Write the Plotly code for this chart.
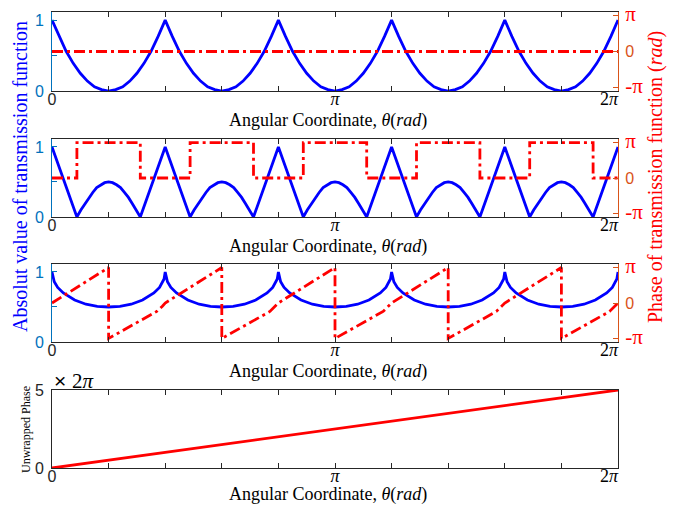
import math
import plotly.graph_objects as go

PI = math.pi

# ---------------- data (theta in units of pi) ----------------
# Panel 1: |t| and phase
theta1 = [round(i * 0.025, 3) for i in range(81)]
amp1 = [1, 0.77, 0.56, 0.39, 0.25, 0.14, 0.06, 0.02, 0, 0.02, 0.06, 0.14, 0.25, 0.39, 0.56, 0.77,
        1, 0.77, 0.56, 0.39, 0.25, 0.14, 0.06, 0.02, 0, 0.02, 0.06, 0.14, 0.25, 0.39, 0.56, 0.77,
        1, 0.77, 0.56, 0.39, 0.25, 0.14, 0.06, 0.02, 0, 0.02, 0.06, 0.14, 0.25, 0.39, 0.56, 0.77,
        1, 0.77, 0.56, 0.39, 0.25, 0.14, 0.06, 0.02, 0, 0.02, 0.06, 0.14, 0.25, 0.39, 0.56, 0.77,
        1, 0.77, 0.56, 0.39, 0.25, 0.14, 0.06, 0.02, 0, 0.02, 0.06, 0.14, 0.25, 0.39, 0.56, 0.77,
        1]
phase1_theta = [0, 2]
phase1 = [0, 0]

# Panel 2
theta2 = [0, 0.088, 0.102, 0.116, 0.13, 0.144, 0.158, 0.172, 0.186, 0.2, 0.214, 0.228, 0.242, 0.256, 0.27, 0.284, 0.298, 0.312,
          0.4, 0.488, 0.502, 0.516, 0.53, 0.544, 0.558, 0.572, 0.586, 0.6, 0.614, 0.628, 0.642, 0.656, 0.67, 0.684, 0.698, 0.712,
          0.8, 0.888, 0.902, 0.916, 0.93, 0.944, 0.958, 0.972, 0.986, 1.0, 1.014, 1.028, 1.042, 1.056, 1.07, 1.084, 1.098, 1.112,
          1.2, 1.288, 1.302, 1.316, 1.33, 1.344, 1.358, 1.372, 1.386, 1.4, 1.414, 1.428, 1.442, 1.456, 1.47, 1.484, 1.498, 1.512,
          1.6, 1.688, 1.702, 1.716, 1.73, 1.744, 1.758, 1.772, 1.786, 1.8, 1.814, 1.828, 1.842, 1.856, 1.87, 1.884, 1.898, 1.912,
          2.0]
amp2 = [1, 0, 0.10, 0.19, 0.28, 0.35, 0.42, 0.46, 0.49, 0.5, 0.49, 0.46, 0.42, 0.35, 0.28, 0.19, 0.10, 0,
        1, 0, 0.10, 0.19, 0.28, 0.35, 0.42, 0.46, 0.49, 0.5, 0.49, 0.46, 0.42, 0.35, 0.28, 0.19, 0.10, 0,
        1, 0, 0.10, 0.19, 0.28, 0.35, 0.42, 0.46, 0.49, 0.5, 0.49, 0.46, 0.42, 0.35, 0.28, 0.19, 0.10, 0,
        1, 0, 0.10, 0.19, 0.28, 0.35, 0.42, 0.46, 0.49, 0.5, 0.49, 0.46, 0.42, 0.35, 0.28, 0.19, 0.10, 0,
        1, 0, 0.10, 0.19, 0.28, 0.35, 0.42, 0.46, 0.49, 0.5, 0.49, 0.46, 0.42, 0.35, 0.28, 0.19, 0.10, 0,
        1]
phase2_theta = [0, 0.088, 0.088, 0.312, 0.312, 0.488, 0.488, 0.712, 0.712, 0.888, 0.888,
                1.112, 1.112, 1.288, 1.288, 1.512, 1.512, 1.688, 1.688, 1.912, 1.912, 2.0]
phase2 = [0, 0, 3.1416, 3.1416, 0, 0, 3.1416, 3.1416, 0, 0, 3.1416,
          3.1416, 0, 0, 3.1416, 3.1416, 0, 0, 3.1416, 3.1416, 0, 0]

# Panel 3
theta3 = [0, 0.004, 0.008, 0.02, 0.04, 0.08, 0.12, 0.16, 0.2, 0.24, 0.28, 0.32, 0.36, 0.38, 0.392, 0.396,
          0.4, 0.404, 0.408, 0.42, 0.44, 0.48, 0.52, 0.56, 0.6, 0.64, 0.68, 0.72, 0.76, 0.78, 0.792, 0.796,
          0.8, 0.804, 0.808, 0.82, 0.84, 0.88, 0.92, 0.96, 1.0, 1.04, 1.08, 1.12, 1.16, 1.18, 1.192, 1.196,
          1.2, 1.204, 1.208, 1.22, 1.24, 1.28, 1.32, 1.36, 1.4, 1.44, 1.48, 1.52, 1.56, 1.58, 1.592, 1.596,
          1.6, 1.604, 1.608, 1.62, 1.64, 1.68, 1.72, 1.76, 1.8, 1.84, 1.88, 1.92, 1.96, 1.98, 1.992, 1.996,
          2.0]
amp3 = [1, 0.90, 0.86, 0.78, 0.70, 0.60, 0.54, 0.51, 0.5, 0.51, 0.54, 0.60, 0.70, 0.78, 0.86, 0.90,
        1, 0.90, 0.86, 0.78, 0.70, 0.60, 0.54, 0.51, 0.5, 0.51, 0.54, 0.60, 0.70, 0.78, 0.86, 0.90,
        1, 0.90, 0.86, 0.78, 0.70, 0.60, 0.54, 0.51, 0.5, 0.51, 0.54, 0.60, 0.70, 0.78, 0.86, 0.90,
        1, 0.90, 0.86, 0.78, 0.70, 0.60, 0.54, 0.51, 0.5, 0.51, 0.54, 0.60, 0.70, 0.78, 0.86, 0.90,
        1, 0.90, 0.86, 0.78, 0.70, 0.60, 0.54, 0.51, 0.5, 0.51, 0.54, 0.60, 0.70, 0.78, 0.86, 0.90,
        1]
phase3_theta = [0, 0.2, 0.2, 0.37, 0.39, 0.4, 0.6, 0.6, 0.77, 0.79, 0.8, 1.0, 1.0, 1.17, 1.19,
                1.2, 1.4, 1.4, 1.57, 1.59, 1.6, 1.8, 1.8, 1.97, 1.99, 2.0]
phase3 = [0, 3.14, -3.14, -0.75, -0.28, 0, 3.14, -3.14, -0.75, -0.28, 0, 3.14, -3.14, -0.75, -0.28,
          0, 3.14, -3.14, -0.75, -0.28, 0, 3.14, -3.14, -0.75, -0.28, 0]

# Panel 4: unwrapped phase (units of 2*pi)
theta4 = [0, 0.2, 0.37, 0.39, 0.4, 0.6, 0.77, 0.79, 0.8, 1.0, 1.17, 1.19, 1.2, 1.4, 1.57, 1.59,
          1.6, 1.8, 1.97, 1.99, 2.0]
unwrapped = [0, 0.5, 0.88, 0.955, 1.0, 1.5, 1.88, 1.955, 2.0, 2.5, 2.88, 2.955, 3.0, 3.5, 3.88, 3.955,
             4.0, 4.5, 4.88, 4.955, 5.0]

x_tickvals = [0, 0.2, 0.4, 0.6, 0.8, 1.0, 1.2, 1.4, 1.6, 1.8, 2.0]
x_ticktext = ['<span style="font-family:Liberation Sans;font-size:16px;font-style:normal;fill:#262626">0</span>',
              '', '', '', '', '<i>π</i>', '', '', '', '', '2<i>π</i>&nbsp;&nbsp;&nbsp;&nbsp;']
left_tickvals = [0, 0.5, 1]
left_ticktext = ['0', '', '1']
right_tickvals = [-PI, 0, PI]
right_ticktext = ['<span style="fill:#FF0000;font-family:Liberation Serif;font-size:21px">-π</span>', '0',
                  '<span style="fill:#FF0000;font-family:Liberation Serif;font-size:21px">π</span>']
unwrap_tickvals = [0, 5]
unwrap_ticktext = ['0', '5']

# ---------------- figure ----------------
W, H = 674, 505
L, R, T, B = 52, 56, 12, 37
ph = H - T - B


def dom(top_px, bot_px):
    return [(H - B - bot_px) / ph, (H - B - top_px) / ph]


domains = [dom(12, 91), dom(139, 217), dom(264, 342), dom(390, 468)]

BLUE = '#0000FF'
RED = '#FF0000'
LAX = '#0072BD'
RAX = '#D95319'
DK = '#262626'
DASH = '11px,4px,3px,4px'

fig = go.Figure()

amps = [(theta1, amp1), (theta2, amp2), (theta3, amp3)]
phases = [(phase1_theta, phase1), (phase2_theta, phase2), (phase3_theta, phase3)]

for k in range(3):
    xa = 'x' if k == 0 else f'x{k+1}'
    ya = 'y' if k == 0 else f'y{k+1}'
    fig.add_trace(go.Scatter(x=amps[k][0], y=amps[k][1], mode='lines', xaxis=xa, yaxis=ya,
                             line=dict(color=BLUE, width=2.8), showlegend=False, hoverinfo='skip'))
    fig.add_trace(go.Scatter(x=phases[k][0], y=phases[k][1], mode='lines', xaxis=xa, yaxis=f'y{k+5}',
                             line=dict(color=RED, width=2.8, dash=DASH), showlegend=False, hoverinfo='skip'))

fig.add_trace(go.Scatter(x=theta4, y=unwrapped, mode='lines', xaxis='x4', yaxis='y4',
                         line=dict(color=RED, width=2.8), showlegend=False, hoverinfo='skip'))

layout = dict(width=W, height=H, margin=dict(l=L, r=R, t=T, b=B),
              paper_bgcolor='white', plot_bgcolor='white', showlegend=False)

for k in range(4):
    xn = 'xaxis' if k == 0 else f'xaxis{k+1}'
    yn = 'yaxis' if k == 0 else f'yaxis{k+1}'
    yref = 'y' if k == 0 else f'y{k+1}'
    xref = 'x' if k == 0 else f'x{k+1}'
    layout[xn] = dict(domain=[0, 1], anchor=yref, range=[0, 2], tickvals=x_tickvals, ticktext=x_ticktext,
                      ticks='inside', ticklen=5, tickcolor=DK, showline=True, linecolor=DK, linewidth=1,
                      mirror='ticks', showgrid=False, zeroline=False, automargin=False,
                      tickfont=dict(family='Liberation Serif', size=18, color='black'), ticklabelstandoff=-9)
    if k < 3:
        layout[yn] = dict(domain=domains[k], anchor=xref, range=[0, 1.114], tickvals=left_tickvals,
                          ticktext=left_ticktext, ticks='inside', ticklen=5, tickcolor=LAX, showline=True,
                          linecolor=LAX, linewidth=1, showgrid=False, zeroline=False, automargin=False,
                          tickfont=dict(family='Liberation Sans', size=16, color=LAX), ticklabelstandoff=4)
        layout[f'yaxis{k+5}'] = dict(overlaying=yref, side='right', anchor=xref, range=[-1.1 * PI, 1.1 * PI],
                                     tickvals=right_tickvals, ticktext=right_ticktext, ticks='inside', ticklen=5,
                                     tickcolor=RAX, showline=True, linecolor=RAX, linewidth=1, showgrid=False,
                                     zeroline=False, automargin=False,
                                     tickfont=dict(family='Liberation Sans', size=16, color=RAX),
                                     ticklabelstandoff=3)
    else:
        layout[yn] = dict(domain=domains[k], anchor=xref, range=[0, 5], tickvals=unwrap_tickvals,
                          ticktext=unwrap_ticktext, ticks='inside', ticklen=5, tickcolor=DK, showline=True,
                          linecolor=DK, linewidth=1, mirror=True, showgrid=False, zeroline=False,
                          automargin=False, tickfont=dict(family='Liberation Sans', size=16, color=DK),
                          ticklabelstandoff=4)

fig.update_layout(**layout)

annotations = []
title_shift = [-29, -29, -29, -26]
for k in range(4):
    xr = 'x' if k == 0 else f'x{k+1}'
    yr = 'y' if k == 0 else f'y{k+1}'
    annotations.append(dict(text='Angular Coordinate, <i>θ</i>(<i>rad</i>)', xref=f'{xr} domain', yref=f'{yr} domain',
                            x=0.488, y=0, yshift=title_shift[k], xanchor='center', yanchor='middle', showarrow=False,
                            font=dict(family='Liberation Serif', size=18, color='black')))

annotations.append(dict(text='Absolut value of transmission function', xref='paper', yref='paper',
                        x=(20 - L) / (W - L - R), y=(H - B - 177) / ph, textangle=-90, showarrow=False,
                        xanchor='center', yanchor='middle',
                        font=dict(family='Liberation Serif', size=20, color=BLUE)))
annotations.append(dict(text='Phase of transmission function (<i>rad</i>)', xref='paper', yref='paper',
                        x=(656 - L) / (W - L - R), y=(H - B - 177) / ph, textangle=-90, showarrow=False,
                        xanchor='center', yanchor='middle',
                        font=dict(family='Liberation Serif', size=20, color=RED)))
annotations.append(dict(text='Unwrapped Phase', xref='paper', yref='paper',
                        x=(26 - L) / (W - L - R), y=(H - B - 430) / ph, textangle=-90, showarrow=False,
                        xanchor='center', yanchor='middle',
                        font=dict(family='Liberation Serif', size=12, color='black')))
annotations.append(dict(text='× <span style="font-family:Liberation Serif">2<i>π</i></span>', xref='paper', yref='paper',
                        x=0, y=(H - B - 381) / ph, xanchor='left', yanchor='middle', showarrow=False,
                        font=dict(family='Liberation Sans', size=21, color='black')))

fig.update_layout(annotations=annotations)

fig.write_html('out.html')
